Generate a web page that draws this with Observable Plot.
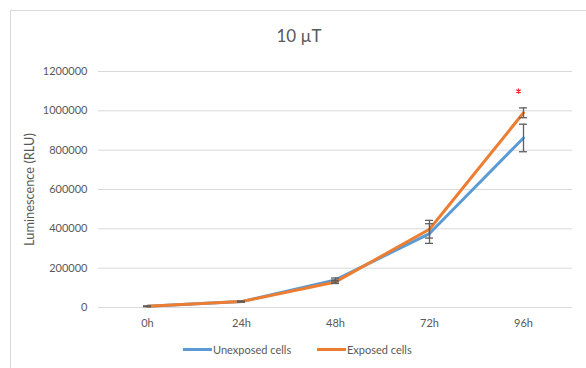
<!DOCTYPE html>
<html>
<head>
<meta charset="utf-8">
<script src="https://cdn.jsdelivr.net/npm/d3@7"></script>
<script src="https://cdn.jsdelivr.net/npm/@observablehq/plot@0.6"></script>
<style>
  html, body { margin: 0; padding: 0; background: #fff; }
  body { width: 586px; height: 368px; overflow: hidden; position: relative; font-family: Lato, "Open Sans", sans-serif; color: #595959; }
  #frame { position: absolute; left: 10px; top: 10px; width: 600px; height: 400px; border-left: 1px solid #d9d9d9; border-top: 1px solid #d9d9d9; }
  #chart { position: absolute; left: 0; top: 0; }
  #title { position: absolute; left: 0; width: 598px; top: 25px; text-align: center; font-size: 17px; color: #595959; }
  .leg { position: absolute; top: 341px; font-size: 11px; color: #595959; display: flex; align-items: center; height: 16px; }
  .sw { display: inline-block; width: 29px; height: 3px; margin-right: 1px; }
</style>
</head>
<body>
<div id="frame"></div>
<div id="chart"></div>
<div id="title">10 µT</div>
<div class="leg" style="left:183px"><span class="sw" style="background:#5B9BD5"></span>Unexposed cells</div>
<div class="leg" style="left:317px"><span class="sw" style="background:#ED7D31"></span>Exposed cells</div>
<script>
const times = ["0h", "24h", "48h", "72h", "96h"];
const unexposed = [6000, 30000, 140000, 376000, 862000];
const unexposedErr = [1000, 2000, 10000, 50000, 70000];
const exposed = [6000, 30000, 130000, 398000, 990000];
const exposedErr = [1000, 2000, 8000, 45000, 25000];
const yTicks = [0, 200000, 400000, 600000, 800000, 1000000, 1200000];
const yTitle = ["Luminescence (RLU)"];
const significance = [{time: "96h", y: 1100000}];

const rows = [];
times.forEach((t, i) => {
  rows.push({time: t, series: "Unexposed cells", value: unexposed[i], err: unexposedErr[i]});
});
times.forEach((t, i) => {
  rows.push({time: t, series: "Exposed cells", value: exposed[i], err: exposedErr[i]});
});

const colors = {"Unexposed cells": "#5B9BD5", "Exposed cells": "#ED7D31"};
const errColor = "#5f5f5f";

const chart = Plot.plot({
  width: 586,
  height: 368,
  marginLeft: 98,
  marginRight: 14,
  marginTop: 71,
  marginBottom: 61,
  style: {fontFamily: "Lato, 'Open Sans', sans-serif", fontSize: "11px", color: "#595959", background: "transparent"},
  x: {type: "point", domain: times, padding: 0.5, label: null},
  y: {domain: [0, 1200000], label: null},
  marks: [
    Plot.ruleY(yTicks, {stroke: "#d9d9d9", strokeWidth: 1}),
    Plot.axisY({ticks: yTicks, tickSize: 0, tickPadding: 11, tickFormat: d => String(d), fill: "#595959", label: null}),
    Plot.axisX({tickSize: 0, tickPadding: 12, fill: "#595959", label: null}),
    Plot.text(yTitle, {frameAnchor: "left", textAnchor: "middle", rotate: -90, dx: -69, fontSize: 12.8, fill: "#595959"}),
    Plot.line(rows.filter(d => d.series === "Unexposed cells"), {x: "time", y: "value", stroke: colors["Unexposed cells"], strokeWidth: 3}),
    Plot.line(rows.filter(d => d.series === "Exposed cells"), {x: "time", y: "value", stroke: colors["Exposed cells"], strokeWidth: 3}),
    Plot.ruleX(rows, {x: "time", y1: d => d.value - d.err, y2: d => d.value + d.err, stroke: errColor, strokeWidth: 1.3}),
    Plot.ruleY(rows, {x1: "time", x2: "time", y: d => d.value - d.err, insetLeft: -4, insetRight: -4, stroke: errColor, strokeWidth: 1.3}),
    Plot.ruleY(rows, {x1: "time", x2: "time", y: d => d.value + d.err, insetLeft: -4, insetRight: -4, stroke: errColor, strokeWidth: 1.3}),
    Plot.dot(significance, {x: "time", y: "y", symbol: "asterisk", r: 2.5, stroke: "#ff2020", strokeWidth: 1.2, dx: -5})
  ]
});
document.getElementById("chart").appendChild(chart);
</script>
</body>
</html>
